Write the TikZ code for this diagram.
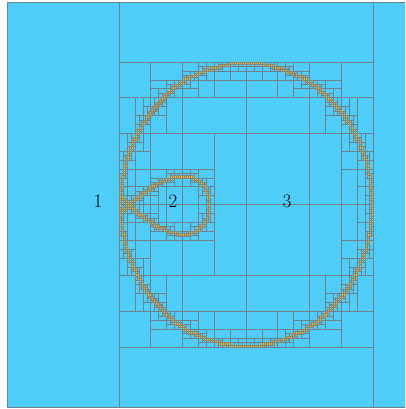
\documentclass[tikz,border=0pt]{standalone}
\usepackage{tikz}
\definecolor{Sky}{HTML}{4DCDF8}
\definecolor{Grid}{HTML}{6F8189}
\definecolor{Amber}{HTML}{F2B622}
\tikzset{
  cell/.style={draw=Grid,line width=0.55pt},
  edgecell/.style={draw=Grid!85!Amber,fill=Amber,line width=0.25pt},
  lab/.style={font=\fontsize{19}{22}\selectfont,text=black}
}
% leaf size near the curves
\def\maxside{2.3}
% outer ellipse (region 3)
\def\bcx{246}\def\bcy{204.5}\def\brx{126}\def\bry{141.5}
% looped curve (region 2), node at (ncx,ncy)
\def\ncx{129}\def\ncy{205}\def\nsc{81}\def\nc{0.865}
% cells on the curves, drawn last
\gdef\edgelist{}

\newcommand\qcell[4]{%
  \begingroup
  \edef\xa{#1}\edef\ya{#2}\edef\xb{#3}\edef\yb{#4}%
  \pgfmathsetmacro\ua{(\xa-\bcx)/\brx}%
  \pgfmathsetmacro\ub{(\xb-\bcx)/\brx}%
  \pgfmathsetmacro\va{(\ya-\bcy)/\bry}%
  \pgfmathsetmacro\vb{(\yb-\bcy)/\bry}%
  \pgfmathsetmacro\dmin{(\ua>0)*(\ua)*(\ua)+(\ub<0)*(\ub)*(\ub)+(\va>0)*(\va)*(\va)+(\vb<0)*(\vb)*(\vb)}%
  \pgfmathsetmacro\dmax{max((\ua)*(\ua),(\ub)*(\ub))+max((\va)*(\va),(\vb)*(\vb))}%
  \pgfmathtruncatemacro\hit{(\dmin<1)*(\dmax>1)}%
  \ifnum\hit=1
    \pgfmathsetmacro\gx{100*((\xa+\xb)/2-\bcx)/\brx/\brx}%
    \pgfmathsetmacro\gy{100*((\ya+\yb)/2-\bcy)/\bry/\bry}%
  \else
    \ifdim\dmin pt<1pt
      \pgfmathsetmacro\pa{(\xa-\ncx)/\nsc}%
      \pgfmathsetmacro\pb{(\xb-\ncx)/\nsc}%
      \pgfmathsetmacro\qa{(\ya-\ncy)/\nsc}%
      \pgfmathsetmacro\qb{(\yb-\ncy)/\nsc}%
      \pgfmathsetmacro\ymn{(\qa>0)*(\qa)*(\qa)+(\qb<0)*(\qb)*(\qb)}%
      \pgfmathsetmacro\ymx{max((\qa)*(\qa),(\qb)*(\qb))}%
      \pgfmathsetmacro\ga{\nc*(\pa)*(\pa)*(1-(\pa))}%
      \pgfmathsetmacro\gb{\nc*(\pb)*(\pb)*(1-(\pb))}%
      \pgfmathsetmacro\gmx{max(\ga,\gb,ifthenelse((\pa<0.6667)*(\pb>0.6667),\nc*4/27,\ga))}%
      \pgfmathsetmacro\gmn{min(\ga,\gb,ifthenelse((\pa<0)*(\pb>0),0,\ga))}%
      \pgfmathtruncatemacro\hit{(\ymn<\gmx)*(\ymx>\gmn)}%
      \pgfmathsetmacro\pm{(\pa+\pb)/2}%
      \pgfmathsetmacro\qm{(\qa+\qb)/2}%
      \pgfmathsetmacro\gx{100*\nc*(2*(\pm)-3*(\pm)*(\pm))/\nsc}%
      \pgfmathsetmacro\gy{200*(\qm)/\nsc}%
    \fi
  \fi
  \ifnum\hit=1
    \pgfmathsetmacro\cw{\xb-\xa}%
    \pgfmathsetmacro\ch{\yb-\ya}%
    \pgfmathsetmacro\exx{abs(\gx)*\cw}%
    \pgfmathsetmacro\eyy{abs(\gy)*\ch}%
    \pgfmathtruncatemacro\leaf{max(\cw,\ch)<\maxside}%
    \pgfmathtruncatemacro\dir{ifthenelse(\cw>1.3*\ch,1,ifthenelse(\ch>1.3*\cw,0,\exx>\eyy))}%
    \ifnum\leaf=1
      \xdef\edgelist{\edgelist (\xa,\ya) rectangle (\xb,\yb)}%
    \else
      \ifnum\dir=1
        \pgfmathsetmacro\xm{(\xa+\xb)/2}%
        \edef\kids{\noexpand\qcell{\xa}{\ya}{\xm}{\yb}%
          \noexpand\qcell{\xm}{\ya}{\xb}{\yb}}%
      \else
        \pgfmathsetmacro\ym{(\ya+\yb)/2}%
        \edef\kids{\noexpand\qcell{\xa}{\ya}{\xb}{\ym}%
          \noexpand\qcell{\xa}{\ym}{\xb}{\yb}}%
      \fi
      \kids
    \fi
  \else
    \draw[cell] (\xa,\ya) rectangle (\xb,\yb);
  \fi
  \endgroup}

\begin{document}
\begin{tikzpicture}[x=1pt,y=-1pt]
  \useasboundingbox (0,0) rectangle (405,409);
  \clip (0,0) rectangle (405,409);
  \fill[Sky] (7,2) rectangle (412,407);
  % coarse blocks around the refined part
  \draw[cell] (7,2) rectangle (119,407);
  \draw[cell] (373,2) rectangle (412,407);
  \draw[cell] (119,2) rectangle (373,62);
  \draw[cell] (119,347) rectangle (373,407);
  % refined part
  \foreach \i in {0,...,3}{
    \foreach \j in {0,...,3}{
      \pgfmathsetmacro\cxa{119+63.5*\i}
      \pgfmathsetmacro\cxb{119+63.5*(\i+1)}
      \pgfmathsetmacro\cya{62+71.25*\j}
      \pgfmathsetmacro\cyb{62+71.25*(\j+1)}
      \edef\go{\noexpand\qcell{\cxa}{\cya}{\cxb}{\cyb}}
      \go
    }
  }
  \path[edgecell] \edgelist;
  \node[lab] (one) at (98,201) {1};
  \node[lab] (two) at (173,201) {2};
  \node[lab] (three) at (287,201) {3};
\end{tikzpicture}
\end{document}
